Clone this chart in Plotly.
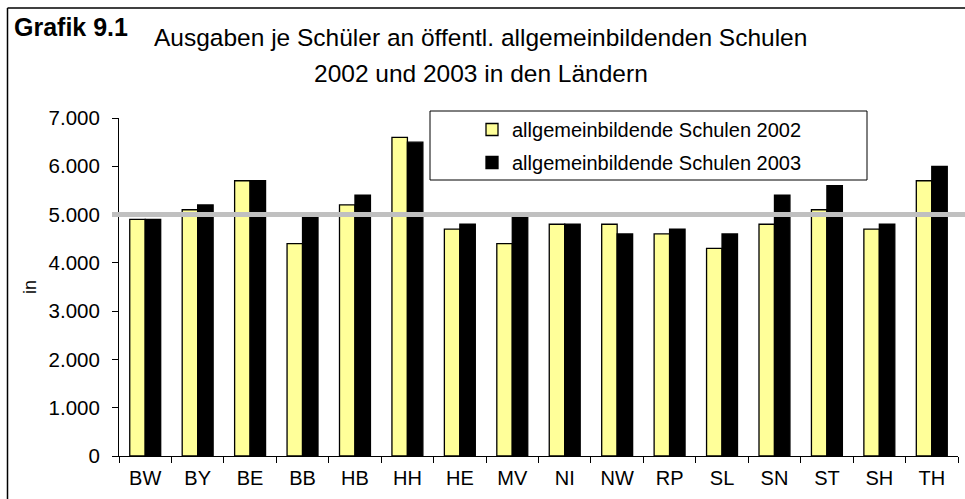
import plotly.graph_objects as go

laender = ["BW", "BY", "BE", "BB", "HB", "HH", "HE", "MV", "NI", "NW", "RP", "SL", "SN", "ST", "SH", "TH"]
werte_2002 = [4900, 5100, 5700, 4400, 5200, 6600, 4700, 4400, 4800, 4800, 4600, 4300, 4800, 5100, 4700, 5700]
werte_2003 = [4900, 5200, 5700, 5000, 5400, 6500, 4800, 5000, 4800, 4600, 4700, 4600, 5400, 5600, 4800, 6000]
name_2002 = "allgemeinbildende Schulen 2002"
name_2003 = "allgemeinbildende Schulen 2003"
referenz = 5000
y_ticks = [0, 1000, 2000, 3000, 4000, 5000, 6000, 7000]

W, H = 965, 499
L, R, T, B = 119, 7, 118, 43
PW, PH = W - L - R, H - T - B

def px(x):
    return (x - L) / PW

def py(y):
    return 1 - (y - T) / PH

FONT = "Arial, Liberation Sans, sans-serif"

fig = go.Figure()
fig.add_bar(x=laender, y=werte_2002, name=name_2002, legendgroup="a",
            marker=dict(color="#FFFF99", line=dict(color="#000000", width=1.3)))
fig.add_bar(x=laender, y=werte_2003, name=name_2003, legendgroup="b",
            marker=dict(color="#000000", line=dict(color="#000000", width=1.3)))

fig.update_layout(
    width=W, height=H,
    margin=dict(l=L, r=R, t=T, b=B, pad=0, autoexpand=False),
    paper_bgcolor="white", plot_bgcolor="white",
    barmode="group", bargap=0.41, bargroupgap=0,
    separators=",.",
    font=dict(family=FONT, color="#000000", size=20),
    showlegend=True,
    legend=dict(x=px(472), y=py(110), xanchor="left", yanchor="top",
                bgcolor="rgba(0,0,0,0)", borderwidth=0,
                font=dict(size=20, family=FONT), tracegroupgap=4,
                itemwidth=30),
    xaxis=dict(showline=True, linecolor="#000000", linewidth=1,
               ticks="outside", tickson="boundaries", ticklen=6,
               tickcolor="#000000", showgrid=False, automargin=False,
               ticklabelstandoff=4,
               tickfont=dict(size=20, family=FONT)),
    yaxis=dict(range=[0, 7000], tickvals=y_ticks, tickformat=",d",
               showline=True, linecolor="#000000", linewidth=1,
               ticks="outside", ticklen=6, tickcolor="#000000",
               showgrid=False, zeroline=False, automargin=False,
               ticklabelstandoff=8,
               tickfont=dict(size=20.5, family=FONT)),
)

# frame of the chart (only left and top edges are visible)
fig.add_shape(type="line", xref="paper", yref="paper",
              x0=px(7.5), x1=px(7.5), y0=py(8), y1=py(700),
              line=dict(color="#000000", width=1.5), layer="below")
fig.add_shape(type="line", xref="paper", yref="paper",
              x0=px(7.5), x1=px(1100), y0=py(8), y1=py(8),
              line=dict(color="#000000", width=1.5), layer="below")
# legend box
fig.add_shape(type="rect", xref="paper", yref="paper",
              x0=px(430), x1=px(867), y0=py(111), y1=py(180),
              line=dict(color="#000000", width=1), fillcolor="white", layer="below")
# reference line
fig.add_shape(type="line", xref="paper", yref="y",
              x0=px(112), x1=px(970), y0=referenz, y1=referenz,
              line=dict(color="#C0C0C0", width=5), layer="above")

fig.add_annotation(text="in", xref="paper", yref="paper",
                   x=px(30), y=py(287), xanchor="center", yanchor="middle",
                   textangle=-90, showarrow=False, font=dict(size=18, family=FONT))
fig.add_annotation(text="<b>Grafik 9.1</b>", xref="paper", yref="paper",
                   x=px(12), y=py(27), xanchor="left", yanchor="middle",
                   showarrow=False, font=dict(size=25, family=FONT))
fig.add_annotation(text="Ausgaben je Schüler an öffentl. allgemeinbildenden Schulen",
                   xref="paper", yref="paper", x=px(480), y=py(37),
                   xanchor="center", yanchor="middle", showarrow=False,
                   font=dict(size=24.5, family=FONT))
fig.add_annotation(text="2002 und 2003 in den Ländern",
                   xref="paper", yref="paper", x=px(481), y=py(73),
                   xanchor="center", yanchor="middle", showarrow=False,
                   font=dict(size=24.5, family=FONT))

fig.write_html("out.html", config={"displayModeBar": False},
               post_script="document.body.style.margin='0';")
